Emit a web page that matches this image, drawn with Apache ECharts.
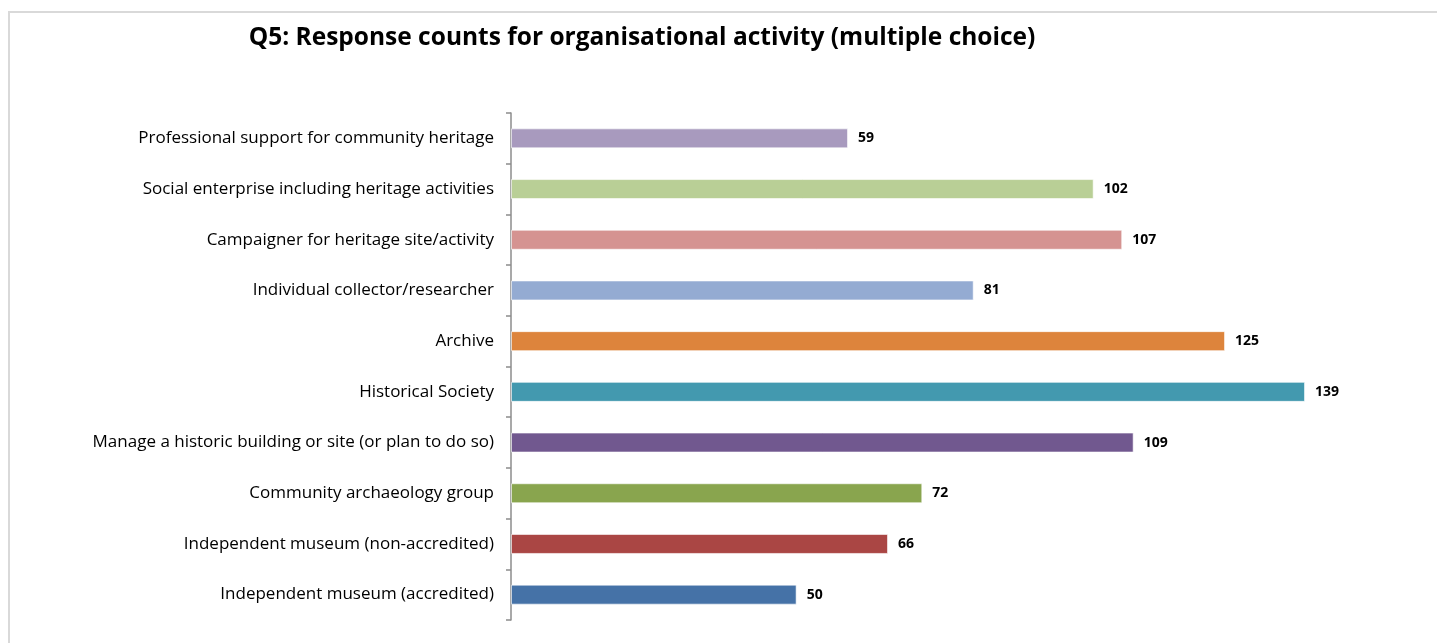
<!DOCTYPE html>
<html>
<head>
<meta charset="utf-8">
<script src="https://cdn.jsdelivr.net/npm/echarts@6/dist/echarts.min.js"></script>
<style>
html,body{margin:0;padding:0;background:#fff;}
#chart{width:1437px;height:643px;}
</style>
</head>
<body>
<div id="chart"></div>
<script>
const categories = [
  'Professional support for community heritage',
  'Social enterprise including heritage activities',
  'Campaigner for heritage site/activity',
  'Individual collector/researcher',
  'Archive',
  'Historical Society',
  'Manage a historic building or site (or plan to do so)',
  'Community archaeology group',
  'Independent museum (non-accredited)',
  'Independent museum (accredited)'
];
const counts = [59, 102, 107, 81, 125, 139, 109, 72, 66, 50];
const barColors = ['#A89ABE','#B9CF96','#D59391','#94ABD2','#DD843C','#4399AF','#71588F','#89A54E','#AA4644','#4572A7'];

const chart = echarts.init(document.getElementById('chart'), null, {renderer: 'canvas'});
chart.setOption({
  animation: false,
  backgroundColor: '#fff',
  title: {
    text: 'Q5: Response counts for organisational activity (multiple choice)',
    left: 637, top: 21, textAlign: 'center',
    textStyle: {fontFamily: 'Open Sans', fontWeight: 'bold', fontSize: 24.5, color: '#000'}
  },
  graphic: [
    {type: 'line', shape: {x1: 8, y1: 12, x2: 1437, y2: 12}, style: {stroke: '#d9d9d9', lineWidth: 2}},
    {type: 'line', shape: {x1: 9, y1: 11, x2: 9, y2: 643}, style: {stroke: '#d9d9d9', lineWidth: 2}}
  ],
  grid: {left: 511, right: 12, top: 113, bottom: 23, containLabel: false},
  xAxis: {
    type: 'value', min: 0, max: 160, show: false
  },
  yAxis: {
    type: 'category', data: categories, inverse: true,
    axisLine: {show: true, lineStyle: {color: '#8c8c8c', width: 1.5}},
    axisTick: {show: true, length: 5, lineStyle: {color: '#8c8c8c', width: 1.5}},
    axisLabel: {margin: 17, color: '#000', fontFamily: 'Open Sans', fontSize: 17}
  },
  series: [{
    type: 'bar',
    data: counts.map((v, i) => ({value: v, itemStyle: {color: barColors[i]}})),
    barWidth: 20,
    itemStyle: {borderColor: 'rgba(255,255,255,0.6)', borderWidth: 1},
    label: {show: true, position: 'right', distance: 10, color: '#000', fontWeight: 'bold', fontFamily: 'Open Sans', fontSize: 14}
  }]
});
</script>
</body>
</html>
